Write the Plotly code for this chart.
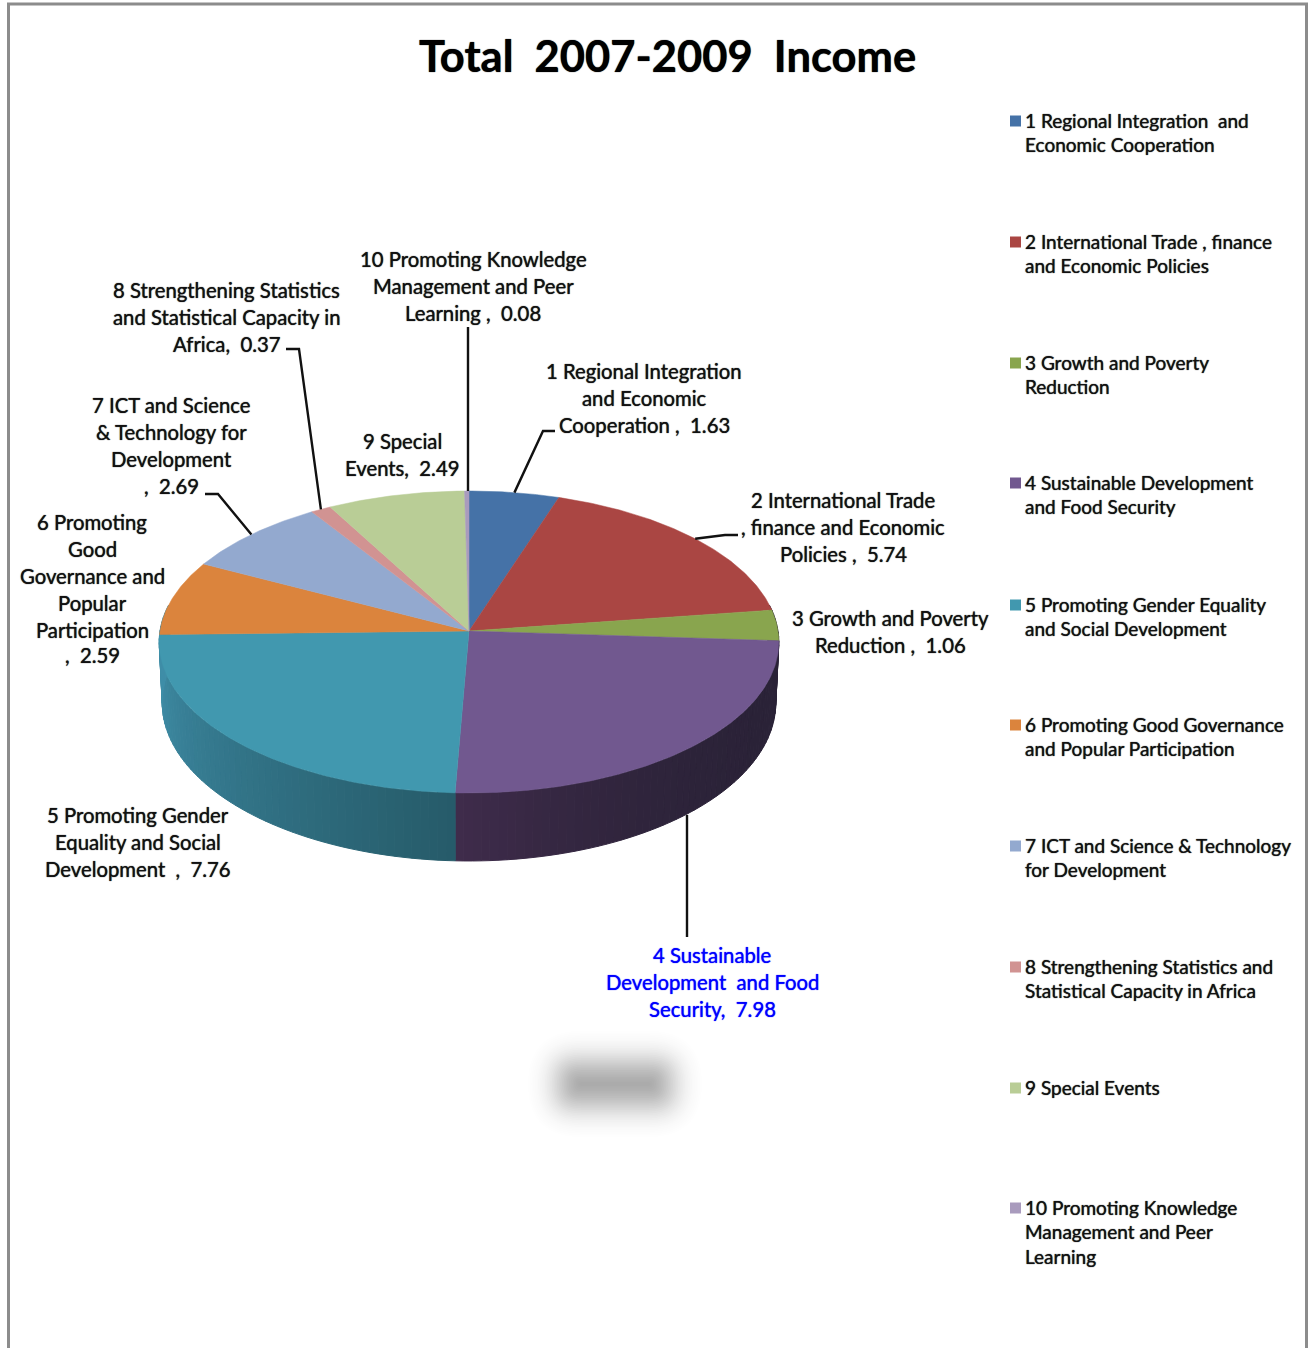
import math
import plotly.graph_objects as go

# Income per programme area, 2007-2009
programmes = [
    "1 Regional Integration and Economic Cooperation",
    "2 International Trade, finance and Economic Policies",
    "3 Growth and Poverty Reduction",
    "4 Sustainable Development and Food Security",
    "5 Promoting Gender Equality and Social Development",
    "6 Promoting Good Governance and Popular Participation",
    "7 ICT and Science & Technology for Development",
    "8 Strengthening Statistics and Statistical Capacity in Africa",
    "9 Special Events",
    "10 Promoting Knowledge Management and Peer Learning",
]
income = [1.63, 5.74, 1.06, 7.98, 7.76, 2.59, 2.69, 0.37, 2.49, 0.08]
slice_colors = ["#4572A7", "#AA4643", "#89A54E", "#71588F", "#4198AF",
                "#DB843D", "#93A9CF", "#D19392", "#B9CD96", "#A99BBD"]
# Wall shade at a slice's start and end angle; the slices at either end of the
# visible wall take on the neighbouring shade
wall_colors = [("#2a2237", "#2a2237"), ("#2a2237", "#2a2237"), ("#2a2237", "#2a2237"),
               ("#2a2237", "#402c4c"), ("#265b69", "#3f8ea8"), ("#3f8ea8", "#3f8ea8"),
               ("#3f8ea8", "#3f8ea8"), ("#3f8ea8", "#3f8ea8"), ("#3f8ea8", "#3f8ea8"),
               ("#3f8ea8", "#3f8ea8")]

legend_lines = [
    ["1 Regional Integration  and", "Economic Cooperation"],
    ["2 International Trade , finance", "and Economic Policies"],
    ["3 Growth and Poverty", "Reduction"],
    ["4 Sustainable Development", "and Food Security"],
    ["5 Promoting Gender Equality", "and Social Development"],
    ["6 Promoting Good Governance", "and Popular Participation"],
    ["7 ICT and Science & Technology", "for Development"],
    ["8 Strengthening Statistics and", "Statistical Capacity in Africa"],
    ["9 Special Events"],
    ["10 Promoting Knowledge", "Management and Peer", "Learning"],
]
legend_rows = [121, 242, 363, 483, 605, 725, 846, 967, 1088, 1208]

# Data labels: text lines, centre x, y of the first line
data_labels = [
    (["1 Regional Integration", "and Economic", "Cooperation ,  1.63"], 644, 370.6, "#111111"),
    (["2 International Trade", ", finance and Economic", "Policies ,  5.74"], 843, 499.6, "#111111"),
    (["3 Growth and Poverty", "Reduction ,  1.06"], 890, 617.6, "#111111"),
    (["4 Sustainable", "Development  and Food", "Security,  7.98"], 712, 954.6, "#0000FF"),
    (["5 Promoting Gender", "Equality and Social", "Development  ,  7.76"], 138, 814.6, "#111111"),
    (["6 Promoting", "Good", "Governance and", "Popular", "Participation"], 92, 521.6, "#111111"),
    ([",  2.59"], 92, 654.6, "#111111"),
    (["7 ICT and Science", "& Technology for", "Development", ",  2.69"], 171, 404.6, "#111111"),
    (["8 Strengthening Statistics", "and Statistical Capacity in", "Africa,  0.37"], 226, 289.6, "#111111"),
    (["9 Special", "Events,  2.49"], 402, 440.6, "#111111"),
    (["10 Promoting Knowledge", "Management and Peer", "Learning ,  0.08"], 473, 258.6, "#111111"),
]
LABEL_STEP = 27
LEGEND_STEP = 24.5
FONT = "Lato"

# Perspective disc: apex, radius, height and foreshortening of the top and bottom rims
APEX_X = 469
TOP_Y, BOTTOM_Y = 631, 691
TOP_R, BOTTOM_R = 309, 306
TOP_S, BOTTOM_S = 150.2, 157.6
PERSPECTIVE = 0.0728


def rim(theta, apex_y, radius, squash):
    """Project an angle clockwise from 12 o'clock on to a rim of the disc."""
    u, v = math.sin(math.radians(theta)), math.cos(math.radians(theta))
    d = 1 + PERSPECTIVE * v
    return APEX_X + radius * u / d, apex_y - squash * v / d


def top_rim(theta):
    return rim(theta, TOP_Y, TOP_R, TOP_S)


def bottom_rim(theta):
    return rim(theta, BOTTOM_Y, BOTTOM_R, BOTTOM_S)


def mix(c0, c1, t):
    a = [int(c0[i:i + 2], 16) for i in (1, 3, 5)]
    b = [int(c1[i:i + 2], 16) for i in (1, 3, 5)]
    return "#%02x%02x%02x" % tuple(round(p + (q - p) * t) for p, q in zip(a, b))


total = sum(income)
edges = [0.0]
for value in income:
    edges.append(edges[-1] + value / total * 360)
mid_angle = [(edges[i] + edges[i + 1]) / 2 for i in range(len(income))]

fig = go.Figure()

# Side wall, built from thin strips so the shading can vary along the rim
WALL_FROM, WALL_TO = 80, 280
for i in range(len(income)):
    a0, a1 = max(edges[i], WALL_FROM), min(edges[i + 1], WALL_TO)
    if a1 <= a0:
        continue
    steps = max(1, int((a1 - a0) / 1.5))
    for s in range(steps):
        t0 = a0 + (a1 - a0) * s / steps
        t1 = a0 + (a1 - a0) * (s + 1) / steps
        frac = (s + 0.5) / steps
        shade = frac ** 3 if i == 3 else frac
        col = mix(wall_colors[i][0], wall_colors[i][1], shade)
        p = [top_rim(t0), top_rim(t1), bottom_rim(t1), bottom_rim(t0), top_rim(t0)]
        fig.add_trace(go.Scatter(x=[q[0] for q in p], y=[q[1] for q in p], mode="lines",
                                 fill="toself", fillcolor=col, line=dict(color=col, width=1),
                                 hoverinfo="skip", showlegend=False))

# Top face
for i, name in enumerate(programmes):
    n = max(2, int((edges[i + 1] - edges[i]) / 0.5))
    pts = [top_rim(edges[i] + (edges[i + 1] - edges[i]) * k / n) for k in range(n + 1)]
    xs = [APEX_X] + [q[0] for q in pts] + [APEX_X]
    ys = [TOP_Y] + [q[1] for q in pts] + [TOP_Y]
    fig.add_trace(go.Scatter(x=xs, y=ys, mode="lines", fill="toself",
                             fillcolor=slice_colors[i],
                             line=dict(color=slice_colors[i], width=0.5),
                             name=name, text=[f"{name}: {income[i]}"] * len(xs),
                             hoverinfo="text", showlegend=False))

# Leader lines: slice index, elbow points and the rim used for the end point
leaders = [
    (0, [(555, 431), (543, 431)], top_rim),
    (1, [(738, 535), (725, 535)], top_rim),
    (3, [(687, 937)], bottom_rim),
    (6, [(205, 494), (218, 494)], top_rim),
    (7, [(286, 349), (299, 349)], top_rim),
    (9, [(468, 327)], top_rim),
]
for idx, elbow, rim_fn in leaders:
    end = rim_fn(mid_angle[idx])
    pts = elbow + [(elbow[-1][0], end[1]) if len(elbow) == 1 else end]
    fig.add_trace(go.Scatter(x=[q[0] for q in pts], y=[q[1] for q in pts], mode="lines",
                             line=dict(color="#111111", width=2.4),
                             hoverinfo="skip", showlegend=False))

# Legend swatches
fig.add_trace(go.Scatter(x=[1015.5] * len(legend_rows), y=legend_rows, mode="markers",
                         marker=dict(symbol="square", size=11, color=slice_colors),
                         hoverinfo="skip", showlegend=False))


def put_text(text, x, y, size, color, anchor, weight=400):
    # A faint same-coloured shadow gives the medium weight the font family lacks
    fig.add_annotation(x=x, y=y, xref="x", yref="y", text=text, showarrow=False,
                       xanchor=anchor, yanchor="middle", borderpad=0,
                       font=dict(family=FONT, size=size, color=color, weight=weight,
                                 shadow=f"0 0 1px {color}"))


for lines, row in zip(legend_lines, legend_rows):
    for k, line in enumerate(lines):
        put_text(line, 1023.7, row + k * LEGEND_STEP - 1, 19, "#111111", "left")

for lines, cx, y0, color in data_labels:
    for k, line in enumerate(lines):
        put_text(line, cx, y0 + k * LABEL_STEP, 20.3, color, "center")

put_text("Total  2007-2009  Income", 667.5, 54.6, 43.5, "#000000", "center", 700)

# Soft grey smudge below the pie, stacked translucent rounded boxes
shapes = []
SMUDGE_X, SMUDGE_Y = 615, 1084
SMUDGE_PEAK = 0.33
layers = 36
offsets = [44 - 60 * k / (layers - 1) for k in range(layers)]
weights = [math.exp(-0.5 * ((d - 4) / 16) ** 2) for d in offsets]
scale = SMUDGE_PEAK / sum(weights)
for d, w in zip(offsets, weights):
    hw, hh = 52 + d, max(18 + d, 1)
    r = min(max(24 + d, 1), hh)
    x0, x1, y0, y1 = SMUDGE_X - hw, SMUDGE_X + hw, SMUDGE_Y - hh, SMUDGE_Y + hh
    path = (f"M{x0 + r},{y0} L{x1 - r},{y0} Q{x1},{y0} {x1},{y0 + r} L{x1},{y1 - r} "
            f"Q{x1},{y1} {x1 - r},{y1} L{x0 + r},{y1} Q{x0},{y1} {x0},{y1 - r} "
            f"L{x0},{y0 + r} Q{x0},{y0} {x0 + r},{y0} Z")
    shapes.append(dict(type="path", path=path, xref="x", yref="y", layer="below",
                       fillcolor=f"rgba(0,0,0,{w * scale:.4f})", line=dict(width=0)))

# Outer frame, running off the bottom of the page
shapes.append(dict(type="rect", xref="x", yref="y", x0=8.5, x1=1306.5, y0=4, y1=1400,
                   line=dict(color="#8c8c8c", width=3), fillcolor="rgba(0,0,0,0)", layer="below"))

fig.update_layout(
    width=1310, height=1348, autosize=False,
    margin=dict(l=0, r=0, t=0, b=0),
    paper_bgcolor="#ffffff", plot_bgcolor="#ffffff",
    xaxis=dict(range=[0, 1310], visible=False, fixedrange=True),
    yaxis=dict(range=[1348, 0], visible=False, fixedrange=True),
    shapes=shapes, showlegend=False,
)

fig.write_html("out.html", config={"displayModeBar": False})
